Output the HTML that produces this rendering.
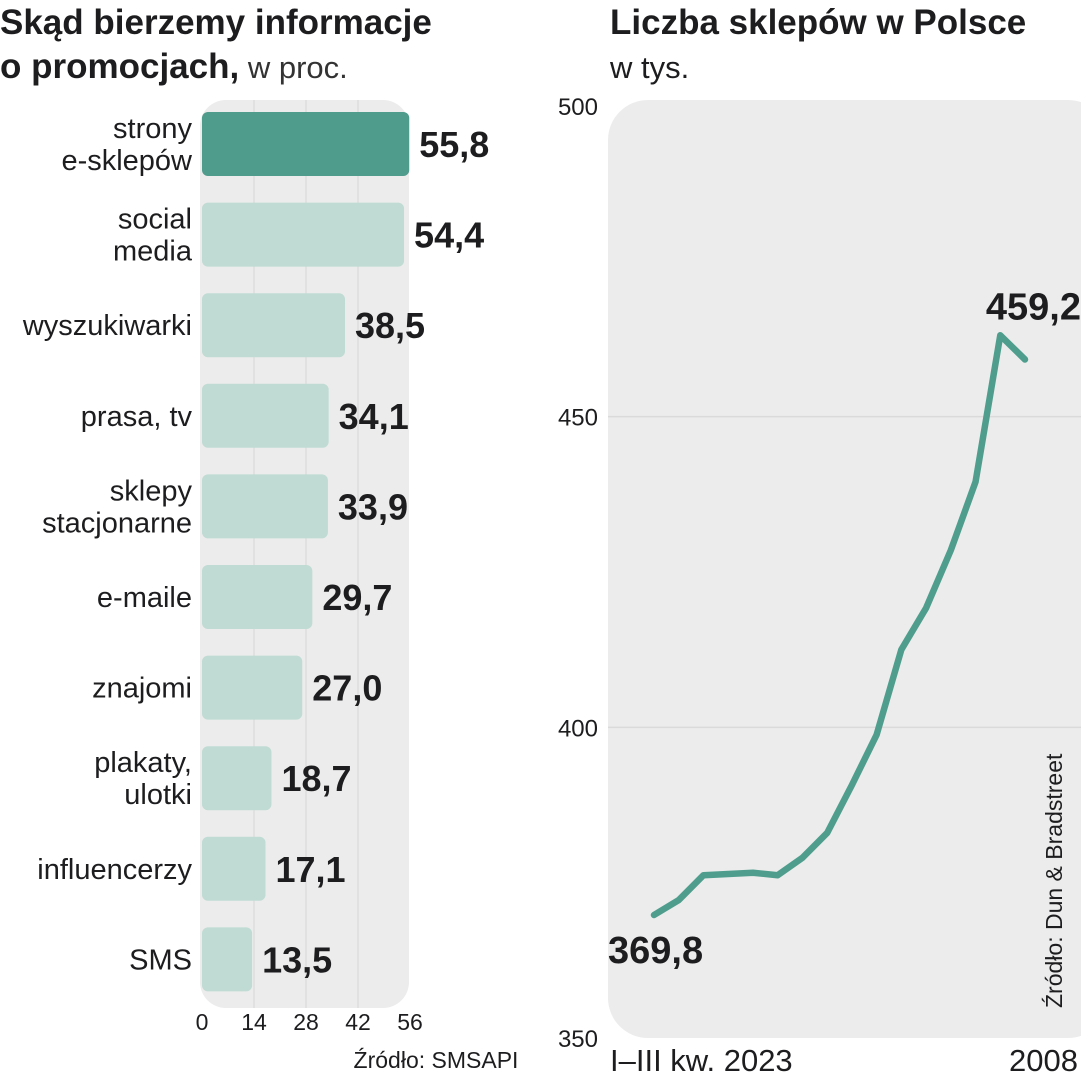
<!DOCTYPE html>
<html><head><meta charset="utf-8"><style>
html,body{margin:0;padding:0;background:#fff;}
svg{display:block;}
text{font-family:"Liberation Sans Narrow","Liberation Sans",sans-serif;fill:#1d1d1f;}
</style></head><body>
<svg id="chart" width="1081" height="1080" viewBox="0 0 1081 1080" xmlns="http://www.w3.org/2000/svg">
<g>
<text x="0" y="34" font-size="35" font-weight="bold">Skąd bierzemy informacje</text>
<text x="0" y="78" font-size="35" font-weight="bold">o promocjach,<tspan font-weight="normal" font-family="Liberation Sans" font-size="31" fill="#333"> w proc.</tspan></text>
</g>
<g>
<text x="610" y="34" font-size="35" font-weight="bold">Liczba sklepów w Polsce</text>
<text x="610" y="78" font-size="31" font-family="Liberation Sans" fill="#333">w tys.</text>
</g>
<rect x="200" y="100" width="209" height="908" rx="26" fill="#ececec"/>
<g id="bars"></g>
<text x="436" y="1068" font-size="23" font-family="Liberation Sans" fill="#333" text-anchor="middle">Źródło: SMSAPI</text>
<rect x="608" y="100" width="500" height="938" rx="40" fill="#ececec"/>
<g id="line"></g>
<text x="610" y="1071" font-size="31">I–III kw. 2023</text>
<text x="1078" y="1071" font-size="31" text-anchor="end">2008</text>
<text transform="translate(1062,1008) rotate(-90)" font-size="23" font-family="Liberation Sans" fill="#333">Źródło: Dun &amp; Bradstreet</text>
</svg>
<script>
const barCategories = [["strony","e-sklepów"],["social","media"],["wyszukiwarki"],["prasa, tv"],["sklepy","stacjonarne"],["e-maile"],["znajomi"],["plakaty,","ulotki"],["influencerzy"],["SMS"]];
const barValues = [55.8,54.4,38.5,34.1,33.9,29.7,27.0,18.7,17.1,13.5];
const barTicks = [0,14,28,42,56];
const lineValues = [369.8,372.2,376.2,376.4,376.6,376.2,379.0,383.0,390.7,398.8,412.5,419.2,428.5,439.5,463.1,459.2];
const lineTicks = [350,400,450,500];
const lineStartLabel = "369,8";
const lineEndLabel = "459,2";

const NS="http://www.w3.org/2000/svg";
function mk(tag,attrs,parent){const e=document.createElementNS(NS,tag);for(const k in attrs)e.setAttribute(k,attrs[k]);parent.appendChild(e);return e;}
const bx=v=>202+v*(208/56);
const rowY=i=>112+i*90.6;
const bars=document.getElementById('bars');
barTicks.forEach((t,i)=>{
  if(i>0&&i<barTicks.length-1){const g=mk('line',{x1:bx(t),x2:bx(t),y1:100,y2:1008,stroke:'#d6d6d6','stroke-width':1},bars);
  
  }
  const tx=mk('text',{x:bx(t),y:1030,'font-size':23,'font-family':'Liberation Sans','text-anchor':'middle',fill:'#333'},bars);
  tx.textContent=t;
  
  
});
barValues.forEach((v,i)=>{
  const y=rowY(i);
  const r=mk('rect',{x:202,y:y,width:bx(v)-202,height:64,rx:6,fill:i===0?'#4f9b8c':'#c0dbd3'},bars);
  
  
  const lab=barCategories[i];
  const cy=y+32;
  lab.forEach((l,j)=>{
    const t=mk('text',{x:192,y:cy+10+(j-(lab.length-1)/2)*32,'font-size':29,'font-family':'Liberation Sans','text-anchor':'end',fill:'#222'},bars);
    t.textContent=l;
    
    
  });
  const vt=mk('text',{x:bx(v)+10,y:cy+13,'font-size':36,'font-weight':'bold'},bars);
  vt.textContent=v.toFixed(1).replace('.',',');
  
  
});
const line=document.getElementById('line');
const ly=v=>1038-(v-350)*(932/150);
const lx=i=>654+i*(1025-654)/(lineValues.length-1);
lineTicks.forEach(t=>{
  if(t>350&&t<500){const g=mk('line',{x1:608,x2:1081,y1:ly(t),y2:ly(t),stroke:'#dadada','stroke-width':1.5},line);
  
  }
  const tx=mk('text',{x:598,y:ly(t)+9,'font-size':24,'font-family':'Liberation Sans','text-anchor':'end',fill:'#333'},line);
  tx.textContent=t;
  
  
});
const p=mk('polyline',{points:lineValues.map((v,i)=>lx(i)+','+ly(v)).join(' '),fill:'none',stroke:'#4f9e8d','stroke-width':6.5,'stroke-linejoin':'round','stroke-linecap':'round'},line);


const s=mk('text',{x:608,y:ly(lineValues[0])+48,'font-size':38,'font-weight':'bold'},line);
s.textContent=lineStartLabel;


const e=mk('text',{x:1081,y:ly(lineValues[lineValues.length-1])-40,'font-size':38,'font-weight':'bold','text-anchor':'end'},line);
e.textContent=lineEndLabel;


</script>
</body></html>
